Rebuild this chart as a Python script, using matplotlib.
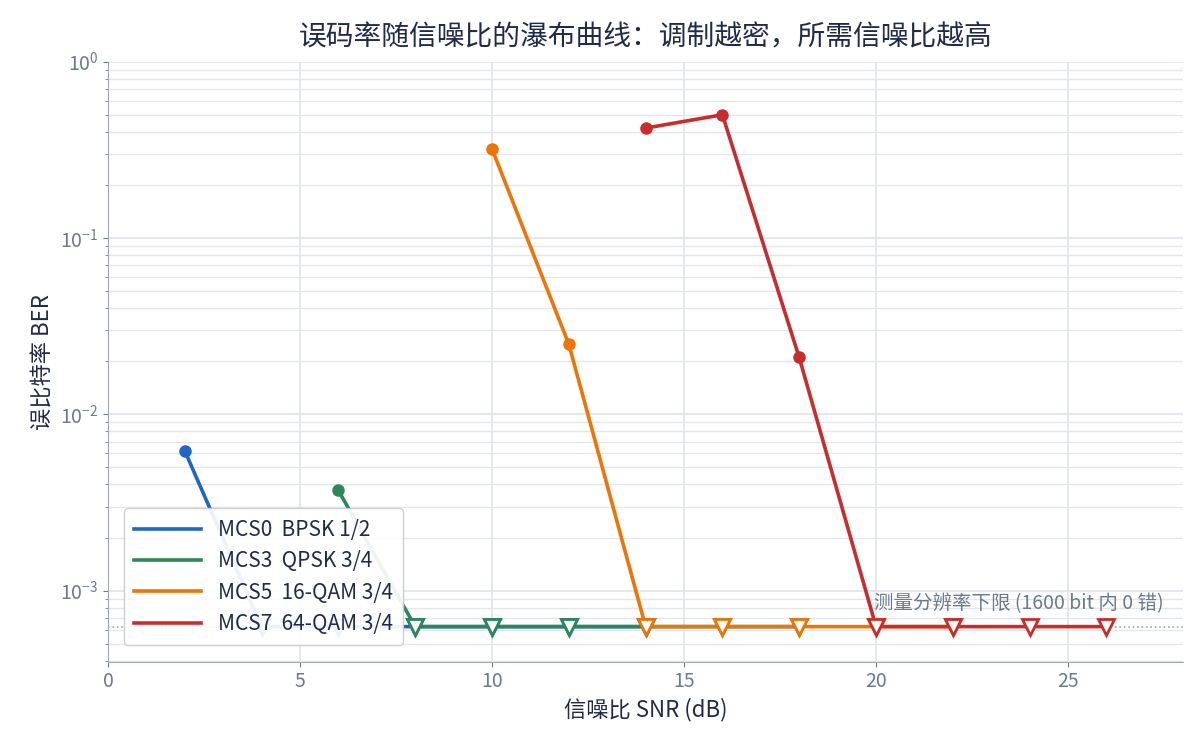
import numpy as np
import matplotlib
matplotlib.use("Agg")
import matplotlib.pyplot as plt

plt.rcParams["font.family"] = ["Noto Sans CJK SC", "DejaVu Sans"]

floor = 1 / 1600
snr = [2, 4, 6, 8, 10, 12, 14, 16, 18, 20, 22, 24, 26]

labels = ["MCS0  BPSK 1/2", "MCS3  QPSK 3/4", "MCS5  16-QAM 3/4", "MCS7  64-QAM 3/4"]
colors = ["#1f66c6", "#2e8757", "#f07306", "#cc2b2b"]
# 每条曲线: (SNR, BER)，BER 为 0 的点画在分辨率下限
curves = [
    ([2, 4, 6, 8, 10, 12, 14], [6.2e-3, 0, 0, 0, 0, 0, 0]),
    ([6, 8, 10, 12, 14, 16, 18], [3.7e-3, 0, 0, 0, 0, 0, 0]),
    ([10, 12, 14, 16, 18, 20, 22], [0.32, 0.025, 0, 0, 0, 0, 0]),
    ([14, 16, 18, 20, 22, 24, 26], [0.42, 0.5, 0.021, 0, 0, 0, 0]),
]

ink = "#1f2a4d"
tick = "#6b7a90"
fig, ax = plt.subplots(figsize=(12, 7.52), dpi=100)
fig.subplots_adjust(left=0.09, right=0.986, top=0.918, bottom=0.12)

for (x, y), c, lab in zip(curves, colors, labels):
    x = np.array(x)
    y = np.array(y, dtype=float)
    yp = np.where(y > 0, y, floor)
    ax.plot(x, yp, color=c, lw=2.6, label=lab, zorder=3)
    m = y > 0
    ax.plot(x[m], yp[m], "o", color=c, ms=8, zorder=4)
    ax.plot(x[~m], yp[~m], "v", mfc="white", mec=c, mew=2, ms=11, zorder=4)

ax.axhline(floor, color="#9aa4b2", ls=":", lw=1.2, zorder=2)
ax.text(27.5, floor * 1.17, "测量分辨率下限 (1600 bit 内 0 错)", ha="right", va="bottom",
        color=tick, fontsize=14)

ax.set_yscale("log")
ax.set_ylim(3.95e-4, 1)
ax.set_xlim(0, 28)
ax.grid(True, which="major", color="#dde2ea", lw=1.1)
ax.grid(True, which="minor", axis="y", color="#e2e6ec", lw=1.0)
for s in ax.spines.values():
    s.set_visible(False)
ax.spines["bottom"].set_visible(True)
ax.spines["left"].set_visible(True)
ax.spines["bottom"].set_color("#a0a8b8")
ax.spines["left"].set_color("#a0a8b8")
ax.tick_params(colors=tick, labelsize=14, which="both")
ax.set_xlabel("信噪比 SNR (dB)", color=ink, fontsize=16)
ax.set_ylabel("误比特率 BER", color=ink, fontsize=16)
ax.set_title("误码率随信噪比的瀑布曲线：调制越密，所需信噪比越高", color=ink, fontsize=20, pad=12)

leg = ax.legend(loc="lower left", fontsize=15, frameon=True, borderpad=0.5,
                labelspacing=0.45, handlelength=3.2, framealpha=0.92,
                bbox_to_anchor=(0.005, 0.01))
leg.get_frame().set_edgecolor("#c8ccd4")
for t in leg.get_texts():
    t.set_color(ink)

fig.savefig("out.png")
